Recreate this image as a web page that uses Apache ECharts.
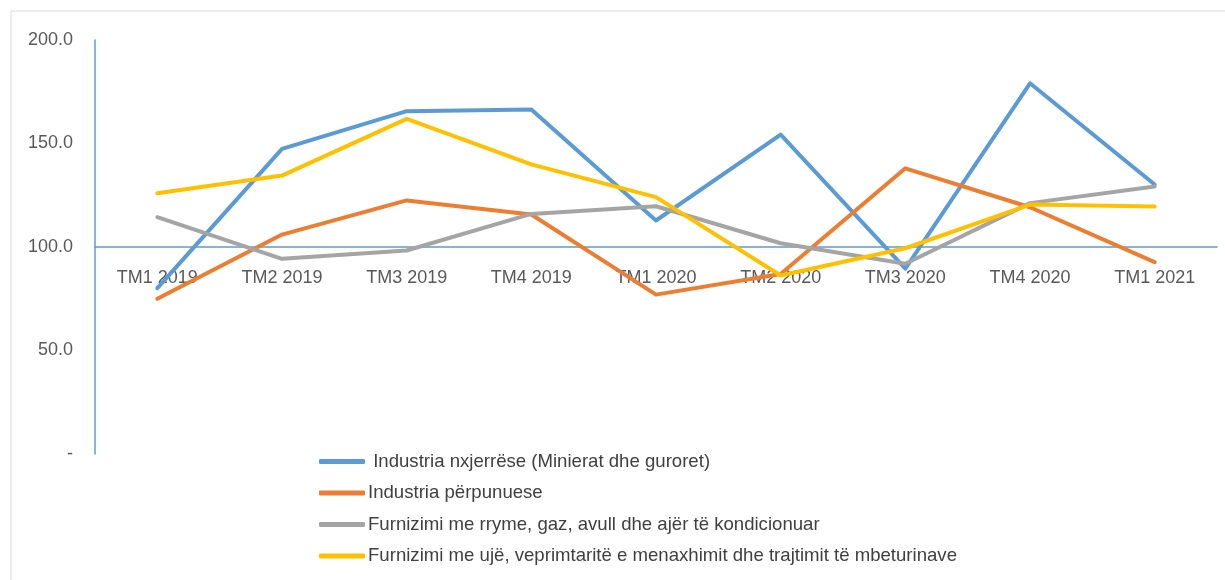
<!DOCTYPE html>
<html>
<head>
<meta charset="utf-8">
<script src="https://cdn.jsdelivr.net/npm/echarts@6/dist/echarts.min.js"></script>
<style>
  html, body { margin: 0; padding: 0; background: #fff; }
  #chart { width: 1225px; height: 580px; }
</style>
</head>
<body>
<div id="chart"></div>
<script>
// quarters
const categories = ['TM1 2019', 'TM2 2019', 'TM3 2019', 'TM4 2019', 'TM1 2020', 'TM2 2020', 'TM3 2020', 'TM4 2020', 'TM1 2021'];

const seriesNames = [
    ' Industria nxjerrëse (Minierat dhe guroret)',
    'Industria përpunuese',
    'Furnizimi me rryme, gaz, avull dhe ajër të kondicionuar',
    'Furnizimi me ujë, veprimtaritë e menaxhimit dhe trajtimit të mbeturinave'
];

const nxjerrese = [80.1, 147.4, 165.6, 166.4, 112.8, 154.3, 89.5, 179.1, 130.2];
const perpunuese = [75.0, 106.0, 122.5, 115.7, 77.0, 87.0, 138.0, 119.2, 92.7];
const energji = [114.4, 94.3, 98.3, 116.0, 119.7, 101.8, 91.9, 121.2, 129.2];
const uje = [126.0, 134.5, 161.9, 139.9, 124.1, 86.2, 99.4, 120.5, 119.6];

const colors = ['#5B9BD5', '#ED7D31', '#A5A5A5', '#FFC000'];
const axisBlue = '#5B9BD5';
const font = '"Liberation Sans Narrow", "Liberation Sans", sans-serif';

const chart = echarts.init(document.getElementById('chart'));

const lineSeries = [nxjerrese, perpunuese, energji, uje].map((d, i) => ({
    name: seriesNames[i],
    type: 'line',
    data: d,
    symbol: 'none',
    lineStyle: { width: 4, color: colors[i], cap: 'round', join: 'round' },
    itemStyle: { color: colors[i] }
}));

chart.setOption({
    animation: false,
    textStyle: { fontFamily: font },
    grid: { left: 95, top: 40, width: 1122, height: 414 },
    // light frame like the original export
    graphic: [
        { type: 'line', shape: { x1: 11, y1: 11, x2: 1225, y2: 11 }, style: { stroke: '#d9d9d9', lineWidth: 1 } },
        { type: 'line', shape: { x1: 11, y1: 11, x2: 11, y2: 580 }, style: { stroke: '#d9d9d9', lineWidth: 1 } }
    ],
    legend: {
        orient: 'vertical',
        left: 314,
        top: 447,
        itemGap: 12.5,
        itemWidth: 46,
        itemHeight: 5,
        icon: 'roundRect',
        data: seriesNames,
        textStyle: { fontFamily: font, fontSize: 18.6, color: '#404040', padding: [0, 0, 0, -2] }
    },
    xAxis: {
        type: 'category',
        data: categories,
        boundaryGap: true,
        offset: -207,
        axisLine: { show: true, lineStyle: { color: axisBlue, width: 1.5, opacity: 1 } },
        axisTick: { show: false },
        axisLabel: { fontFamily: font, fontSize: 18, color: '#595959', margin: 22 }
    },
    yAxis: {
        type: 'value',
        min: 0,
        max: 200,
        interval: 50,
        axisLine: { show: true, lineStyle: { color: axisBlue, width: 1.5, opacity: 1 } },
        axisTick: { show: false },
        splitLine: { show: false },
        axisLabel: {
            fontFamily: font,
            fontSize: 18,
            color: '#595959',
            margin: 22,
            formatter: v => (v === 0 ? '-' : v.toFixed(1))
        }
    },
    series: lineSeries
});
</script>
</body>
</html>
